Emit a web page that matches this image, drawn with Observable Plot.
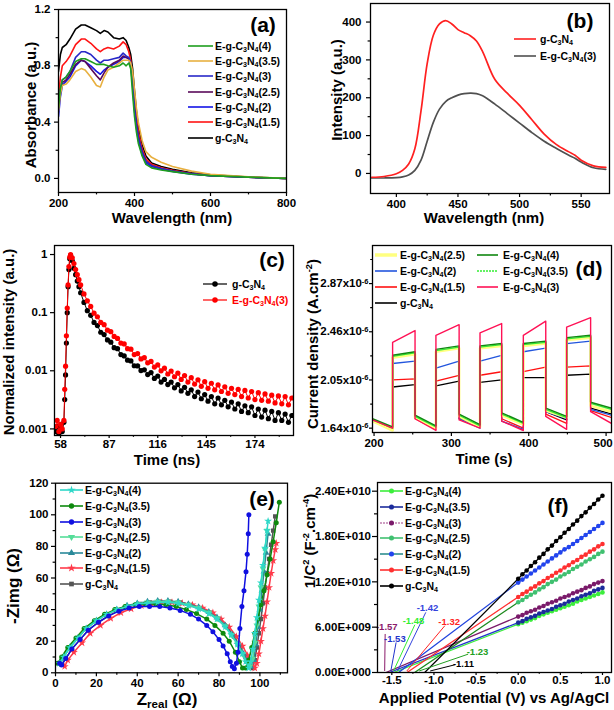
<!DOCTYPE html>
<html><head><meta charset="utf-8">
<script src="https://cdn.jsdelivr.net/npm/d3@7"></script>
<script src="https://cdn.jsdelivr.net/npm/@observablehq/plot@0.6"></script>
<style>
html,body{margin:0;padding:0;background:#fff;}
#root{position:relative;width:614px;height:710px;overflow:hidden;background:#fff;font-family:"Liberation Sans",Arial,Helvetica,sans-serif;font-weight:bold;color:#000;}
.t{position:absolute;white-space:nowrap;line-height:1;}
.xl{transform:translate(-50%,-50%);font-size:15px;}
.yl{transform:translate(-50%,-50%) rotate(-90deg);font-size:15px;}
.pl{transform:translate(-50%,-50%);font-size:21px;}
.lg{position:absolute;white-space:nowrap;font-size:10.5px;line-height:12px;height:12px;display:flex;align-items:center;}
.lg svg{display:block;flex:none;}
sub{font-size:0.68em;vertical-align:-0.28em;line-height:0;}
sup{font-size:0.62em;vertical-align:0.6em;line-height:0;}
</style></head><body><div id="root"></div>
<script>
// ---------------- (a) UV-vis absorbance ----------------
const uvWavelength = [200,205,210,220,230,245,260,270,285,300,310,320,330,345,360,370,378,385,390,395,400,405,410,420,430,445,470,500,550,600,700,800];
const uvG   = [0.76,0.88,0.93,0.95,0.99,1.06,1.09,1.09,1.07,1.05,1.03,1.05,1.04,1.00,0.99,1.00,0.98,0.93,0.88,0.78,0.62,0.48,0.37,0.24,0.16,0.11,0.085,0.065,0.04,0.025,0.01,0.0];
const uvE15 = [0.58,0.72,0.80,0.83,0.87,0.95,0.99,0.99,0.96,0.92,0.90,0.92,0.93,0.92,0.94,0.97,0.95,0.90,0.84,0.72,0.56,0.43,0.33,0.21,0.14,0.10,0.075,0.058,0.035,0.022,0.008,0.0];
const uvE2  = [0.44,0.58,0.66,0.69,0.72,0.80,0.84,0.83,0.80,0.76,0.74,0.77,0.79,0.81,0.83,0.86,0.86,0.85,0.80,0.66,0.48,0.36,0.27,0.17,0.11,0.085,0.065,0.05,0.03,0.02,0.008,0.0];
const uvE25 = [0.50,0.63,0.68,0.70,0.74,0.81,0.84,0.83,0.78,0.73,0.70,0.75,0.79,0.82,0.84,0.87,0.86,0.85,0.82,0.70,0.52,0.39,0.30,0.19,0.125,0.09,0.07,0.053,0.033,0.02,0.008,0.0];
const uvE3  = [0.50,0.62,0.70,0.72,0.76,0.86,0.90,0.90,0.88,0.84,0.82,0.84,0.84,0.85,0.86,0.89,0.87,0.86,0.82,0.68,0.50,0.38,0.29,0.19,0.12,0.09,0.07,0.052,0.033,0.02,0.008,0.0];
const uvE35 = [0.48,0.60,0.66,0.67,0.70,0.76,0.78,0.77,0.72,0.66,0.65,0.72,0.77,0.79,0.82,0.84,0.84,0.84,0.82,0.76,0.63,0.50,0.40,0.27,0.19,0.15,0.115,0.085,0.052,0.03,0.012,0.0];
const uvE4  = [0.50,0.64,0.70,0.72,0.76,0.83,0.85,0.85,0.83,0.81,0.81,0.81,0.80,0.79,0.80,0.82,0.80,0.82,0.78,0.60,0.44,0.33,0.25,0.16,0.10,0.075,0.06,0.048,0.03,0.02,0.009,0.0];

// ---------------- (b) PL spectra ----------------
const plWavelength = [380,390,400,405,410,415,420,425,430,435,440,445,450,455,460,465,470,480,490,500,510,520,530,540,545,550,560,570];
const plG  = [-10,-8,-1,8,25,65,165,290,365,395,404,395,380,372,364,350,322,248,212,180,142,104,76,57,48,35,20,16];
const plE3 = [-12,-12,-11,-9,-4,8,35,85,135,170,190,200,207,211,212,211,205,183,158,133,108,85,66,48,40,30,15,11];

// ---------------- (c) TRPL decay ----------------
const decayTime = [55,56,57,58,59,60,60.5,61,61.5,62,62.5,63,63.5,64,65,66,67,68,69,70,
  72,74,76,78,80,82,84,86,88,90,92,94,96,98,100,102,104,106,108,110,112,114,116,118,120,122,124,126,128,130,
  132,134,136,138,140,142,144,146,148,150,152,154,156,158,160,162,164,166,168,170,172,174,176,178,180,182,184,186,188,190,192,194,196];
const decayG = [0.0009,0.0011,0.0008,0.0010,0.0009,0.0013,0.0032,0.0085,0.03,0.10,0.28,0.55,0.85,0.97,
  0.78,0.58,0.45,0.35,0.28,0.22,
  0.15,0.108,0.09,0.068,0.06,0.046,0.042,0.034,0.031,0.025,
  0.024,0.019,0.018,0.0152,0.0148,0.0122,0.0121,0.0101,0.0104,0.0086,
  0.0093,0.0074,0.0081,0.0064,0.0071,0.0058,0.0064,0.0051,0.0058,0.0045,
  0.0052,0.0041,0.0047,0.0036,0.0043,0.0033,0.0039,0.0030,0.0036,0.0027,
  0.0034,0.0026,0.0031,0.0024,0.0029,0.0022,0.0027,0.0020,0.0025,0.0019,
  0.0024,0.0017,0.0022,0.0016,0.0021,0.0015,0.0020,0.0014,0.0019,0.0014,
  0.0018,0.0013,0.0017];
const decayE3 = [0.0011,0.0014,0.0009,0.0012,0.0010,0.0014,0.0048,0.012,0.04,0.12,0.30,0.62,0.90,1.0,
  0.88,0.70,0.55,0.45,0.37,0.30,
  0.21,0.16,0.128,0.098,0.085,0.068,0.062,0.05,0.047,0.039,
  0.036,0.030,0.029,0.024,0.0235,0.019,0.0198,0.016,0.0168,0.0137,
  0.0145,0.0116,0.0126,0.010,0.0111,0.0088,0.0099,0.0079,0.0091,0.0071,
  0.0083,0.0064,0.0076,0.0059,0.0070,0.0054,0.0065,0.0050,0.0061,0.0047,
  0.0057,0.0044,0.0053,0.0041,0.0050,0.0039,0.0048,0.0036,0.0046,0.0034,
  0.0044,0.0032,0.0042,0.0031,0.0040,0.0030,0.0038,0.0028,0.0037,0.0027,
  0.0036,0.0026,0.0034];

// ---------------- (d) transient photocurrent (x1e-6 A cm^-2) ----------------
const ivRange = [198, 507];
const ivOn  = [224, 280, 337, 393, 449];
const ivOff = [253, 310, 365, 422, 480];
const ivG_on   = [[1.99,2.01],[2.00,2.04],[2.03,2.05],[2.07,2.07],[2.09,2.10]];
const ivG_off  = [[1.71,1.64],[1.73,1.65],[1.73,1.66],[1.75,1.68],[1.78,1.71],[1.81,1.76]];
const ivE15_on  = [[2.05,2.06],[2.04,2.09],[2.09,2.12],[2.12,2.16],[2.16,2.17]];
const ivE15_off = [[1.70,1.63],[1.72,1.63],[1.72,1.65],[1.72,1.64],[1.76,1.68],[1.79,1.73]];
const ivE2_on  = [[2.19,2.21],[2.15,2.21],[2.21,2.26],[2.29,2.32],[2.36,2.38]];
const ivE2_off = [[1.71,1.64],[1.74,1.65],[1.72,1.64],[1.70,1.63],[1.78,1.72],[1.80,1.75]];
const ivE25_on  = [[2.24,2.27],[2.29,2.32],[2.32,2.34],[2.34,2.36],[2.39,2.41]];
const ivE25_off = [[1.70,1.62],[1.73,1.64],[1.74,1.65],[1.75,1.67],[1.79,1.73],[1.83,1.78]];
const ivE35_on  = [[2.25,2.28],[2.30,2.33],[2.33,2.35],[2.35,2.37],[2.40,2.42]];
const ivE35_off = [[1.71,1.64],[1.74,1.65],[1.75,1.66],[1.76,1.68],[1.80,1.73],[1.85,1.80]];
const ivE4_on  = [[2.26,2.29],[2.31,2.34],[2.34,2.36],[2.36,2.38],[2.41,2.43]];
const ivE4_off = [[1.72,1.65],[1.75,1.66],[1.76,1.67],[1.77,1.69],[1.81,1.74],[1.86,1.81]];
const ivE3_on  = [[2.37,2.47],[2.43,2.52],[2.45,2.53],[2.43,2.55],[2.50,2.58]];
const ivE3_off = [[1.71,1.64],[1.72,1.62],[1.71,1.64],[1.70,1.62],[1.74,1.63],[1.78,1.68]];

// ---------------- (e) EIS Nyquist ----------------
const eisG_x = [3,5,8,12,16,21,26,31,36,41,46,51,56,61,66,71,76,80,84,87.5,90.5,93,95,96.5,97.5,98.5,99.5,100.5,101.5,102.5,103.5,104.5,105.5,106.5,107.5];
const eisG_y = [5,9,15,21,27,32,36,39.5,42,43.5,44.5,45,45,44.5,43,41,38,34,29,23,16,10,5,3,8,16,25,34,44,54,63,72,81,90,99];
const eisE15_x = [4.5,6,9,13,17,22,27,32,37,42,47,52,57,62,67,72,77,81,85,88.5,91.5,94,96,97.5,98.5,99.5,100.5,101.5,102.5,103.5,104.5,105.5,106.5,107.5,108];
const eisE15_y = [4,8,13,19,25,30,34.5,38,40.5,42.5,43.5,44.5,44.5,44,43,41,38,34,29,23,17,11,6,3,6,12,20,28,36,45,54,63,71,78,82];
const eisE2_x = [2.5,4,7,11,15,20,25,30,35,40,45,50,55,60,65,70,75,79,83,86.5,89.5,92,94,95.5,97,98,99,100,101,102,103,104];
const eisE2_y = [6,10,16,22,28,33,37,40,42.5,44,45,45.5,45.5,45,43.5,41.5,38.5,35,30,24,18,12,7,4,8,18,29,40,52,64,76,88];
const eisE25_x = [2,4,7,11,15,20,25,30,35,40,45,50,55,60,65,70,75,79,83,86,89,91.5,93.5,95,96.5,97.5,98.5,99.5,100.5,101.5,102.5,103.5];
const eisE25_y = [6,10,16,22,28,33,37,40,42,43.5,44.5,45,45,44.5,43,41,38,34.5,29.5,24,18,12,7,4,9,19,30,42,54,66,78,90];
const eisE3_x = [2,3,5,8,12,16,21,26,31,36,41,46,51,56,61,66,70,74,77,80,82,84,85.5,86.5,87.5,88.5,89.3,90.2,91.2,92.2,93.2,93.8,94.3,94.6];
const eisE3_y = [6,5,9,15,21,27,32,36,39,41,42,42,42,41,39.5,37,34,30,26,21,17,12,7,4,2.5,6,13,28,42,52,64,75,88,100];
const eisE35_x = [1,3,6,10,14,19,24,29,34,39,44,49,54,59,64,69,74,78,82,85,88,90,91.5,93,94.5,96,97.5,99,100.5,102,103.5,105,106.5,108,109.5];
const eisE35_y = [6,10,16,22,28,33,37,40,42,43,43.5,43.5,43,42,40,37.5,34,30,25,20,13,7,3,3,8,16,25,34,43,52,62,72,83,95,108];
const eisE4_x = [2,4,7,11,15,20,25,30,35,40,45,50,55,60,65,70,75,79,83,86,89,91.5,93,94.5,95.5,96.5,97.5,98.5,99.5,100.5,101.5,102.5,103.5,104];
const eisE4_y = [6,10,16,22,28,33,37,40,42,43.5,44,44.5,44.5,44,42.5,40.5,37.5,34,29,24,18,12,7,3,7,15,25,35,46,57,68,79,90,96];

// ---------------- (f) Mott-Schottky (x1e10 F^-2 cm^4) ----------------
const msV = [0,0.05,0.1,0.15,0.2,0.25,0.3,0.35,0.4,0.45,0.5,0.55,0.6,0.65,0.7,0.75,0.8,0.85,0.9,0.95,1.0];
const msG   = [1.24,1.30,1.35,1.41,1.46,1.52,1.57,1.63,1.68,1.74,1.79,1.85,1.90,1.96,2.01,2.07,2.12,2.18,2.23,2.29,2.34];
const msE2  = [1.19,1.23,1.27,1.31,1.35,1.39,1.43,1.47,1.51,1.55,1.59,1.63,1.66,1.70,1.74,1.78,1.82,1.86,1.90,1.94,1.98];
const msE15 = [1.00,1.04,1.07,1.11,1.14,1.18,1.21,1.25,1.28,1.32,1.35,1.39,1.42,1.46,1.49,1.53,1.56,1.60,1.63,1.67,1.70];
const msE25 = [0.93,0.96,1.00,1.03,1.06,1.10,1.13,1.17,1.20,1.23,1.27,1.30,1.33,1.37,1.40,1.43,1.47,1.50,1.53,1.57,1.60];
const msE3  = [0.74,0.76,0.79,0.81,0.83,0.86,0.88,0.91,0.93,0.95,0.98,1.00,1.02,1.05,1.07,1.09,1.12,1.14,1.17,1.19,1.21];
const msE35 = [0.66,0.68,0.71,0.73,0.75,0.78,0.80,0.82,0.84,0.87,0.89,0.91,0.94,0.96,0.98,1.01,1.03,1.05,1.08,1.10,1.12];
const msE4  = [0.64,0.66,0.68,0.70,0.72,0.75,0.77,0.79,0.81,0.83,0.85,0.87,0.89,0.91,0.94,0.96,0.98,1.00,1.02,1.04,1.06];
const msLabelText = ["-1.57","-1.53","-1.48","-1.42","-1.32","-1.23","-1.11"];
const msLabelX = [-1.56,-1.464,-1.243,-1.077,-0.82,-0.483,-0.65];
const msLabelY = [0.597,0.442,0.685,0.853,0.672,0.274,0.119];
const msLeaderX = [-1.579,-1.449,-1.227,-1.097,-0.871,-0.594,-0.752];
const msLeaderY = [0.51,0.398,0.632,0.796,0.619,0.243,0.102];
const msLeaderEndX = [-1.585,-1.512,-1.48,-1.433,-1.322,-1.176,-1.045];
const msLabelColor = ["#8B1A6B","#2233CC","#33EE33","#3344DD","#FF2222","#22A022","#000000"];

// ================= rendering =================
const FONT = '"Liberation Sans", Arial, Helvetica, sans-serif';
const root = document.getElementById("root");
const SUB = s => s.replace(/C3N4/g, "C<sub>3</sub>N<sub>4</sub>");
const zip = (xs, ys, kx="x", ky="y") => xs.map((v,i)=>({[kx]: v, [ky]: ys[i]}));

const triDown = {draw(context, size) {
  const y = -Math.sqrt(size / (Math.sqrt(3) * 3));
  context.moveTo(0, -y * 2);
  context.lineTo(-Math.sqrt(3) * y, y);
  context.lineTo(Math.sqrt(3) * y, y);
  context.closePath();
}};

function panel(o) {
  const svg = Plot.plot({
    width: o.width, height: o.height,
    marginLeft: o.ml, marginRight: o.mr, marginTop: o.mt, marginBottom: o.mb,
    x: Object.assign({label: null}, o.x),
    y: Object.assign({label: null}, o.y),
    style: {fontFamily: FONT, fontSize: (o.fs || 11.5) + "px", fontWeight: "bold", background: "transparent", color: "#000", overflow: "visible"},
    marks: o.marks
  });
  svg.style.position = "absolute";
  svg.style.left = o.left + "px";
  svg.style.top = o.top + "px";
  root.appendChild(svg);
  return svg;
}

function axes(xt, xm, yt, ym, fx, fy, o = {}) {
  const ts = o.ts ?? 4, tp = o.tp ?? 3, tsy = o.tsy ?? ts, tpy = o.tpy ?? tp;
  return [
    Plot.axisX(xt, {tickSize: ts, tickPadding: tp, tickFormat: fx, strokeWidth: 1.2}),
    Plot.axisX(xm, {tickSize: ts * 0.6, tickFormat: () => "", strokeWidth: 1.2}),
    Plot.axisY(yt, {tickSize: tsy, tickPadding: tpy, tickFormat: fy, strokeWidth: 1.2}),
    Plot.axisY(ym, {tickSize: tsy * 0.6, tickFormat: () => "", strokeWidth: 1.2}),
    Plot.frame({stroke: "#000", strokeWidth: 1.3})
  ];
}

function txt(cls, x, y, html, extra = {}) {
  const d = document.createElement("div");
  d.className = "t " + cls;
  d.style.left = x + "px"; d.style.top = y + "px";
  d.innerHTML = html;
  Object.assign(d.style, extra);
  root.appendChild(d);
}

const symTypes = {circle: d3.symbolCircle, square: d3.symbolSquare, triangle: d3.symbolTriangle, star: d3.symbolStar, triDown: d3.symbolTriangle};
function legend(x, y, dy, w, gap, items, fs) {
  items.forEach((it, i) => {
    const d = document.createElement("div");
    d.className = "lg";
    d.style.left = x + "px";
    d.style.top = (y + i * dy - 6) + "px";
    if (fs) d.style.fontSize = fs + "px";
    let s = `<svg width="${w}" height="12" style="margin-right:${gap}px;overflow:visible"><line x1="0" y1="6" x2="${w}" y2="6" stroke="${it.color}" stroke-width="${it.sw ?? 1.6}" ${it.dash ? `stroke-dasharray="${it.dash}"` : ""}/>`;
    if (it.sym) {
      const p = d3.symbol(symTypes[it.sym], it.ss ?? 22)();
      s += `<path d="${p}" transform="translate(${w/2},6)${it.sym === "triDown" ? " rotate(180)" : ""}" fill="${it.mc || it.color}"/>`;
    }
    s += `</svg>`;
    d.innerHTML = s + `<span style="color:${it.tc || "#000"}">${SUB(it.label)}</span>`;
    root.appendChild(d);
  });
}

// ---- (a)
{
  const series = [
    [uvG, "#000000"], [uvE15, "#FF1414"], [uvE2, "#1414E6"], [uvE25, "#5A0A5A"],
    [uvE3, "#2828C8"], [uvE35, "#E8B040"], [uvE4, "#1E9E1E"]
  ];
  panel({
    left: 0, top: 0, width: 307, height: 235, ml: 58, mr: 21, mt: 9, mb: 43,
    x: {domain: [200, 800]}, y: {domain: [-0.1, 1.2]},
    marks: [
      ...series.map(([ys, c]) => Plot.line(zip(uvWavelength, ys), {x: "x", y: "y", stroke: c, strokeWidth: 1.6, clip: true})),
      ...axes([200,400,600,800], [300,500,700], [0,0.4,0.8,1.2], [0.2,0.6,1.0], d => d, d => d.toFixed(1), {ts: 4, tp: 2, tpy: 4})
    ]
  });
  txt("xl", 172, 217, "Wavelength (nm)");
  txt("yl", 30, 105, "Absorbance (a.u.)");
  txt("pl", 263, 24, "(a)");
  legend(188, 45.7, 15.3, 25, 2, [
    {label: "E-g-C3N4(4)", color: "#1E9E1E"},
    {label: "E-g-C3N4(3.5)", color: "#E8B040"},
    {label: "E-g-C3N4(3)", color: "#2828C8"},
    {label: "E-g-C3N4(2.5)", color: "#5A0A5A"},
    {label: "E-g-C3N4(2)", color: "#1414E6"},
    {label: "E-g-C3N4(1.5)", color: "#FF1414"},
    {label: "g-C3N4", color: "#000000"}
  ]);
}

// ---- (b)
{
  panel({
    left: 307, top: 0, width: 307, height: 235, ml: 63, mr: 5, mt: 3, mb: 42,
    x: {domain: [379, 573]}, y: {domain: [-53, 449]},
    marks: [
      Plot.line(zip(plWavelength, plE3), {x: "x", y: "y", stroke: "#505050", strokeWidth: 1.7, curve: "catmull-rom", clip: true}),
      Plot.line(zip(plWavelength, plG), {x: "x", y: "y", stroke: "#FF2020", strokeWidth: 1.7, curve: "catmull-rom", clip: true}),
      ...axes([400,450,500,550], [425,475,525], [0,100,200,300,400], [50,150,250,350], d => d, d => d, {ts: 4, tp: 2, tpy: 5})
    ]
  });
  txt("xl", 484, 217, "Wavelength (nm)");
  txt("yl", 336, 90, "Intensity (a.u.)");
  txt("pl", 580, 20, "(b)");
  legend(514, 39, 17, 22, 4, [
    {label: "g-C3N4", color: "#FF2020"},
    {label: "E-g-C3N4(3)", color: "#505050"}
  ]);
}

// ---- (c)
{
  const rowsG = zip(decayTime, decayG), rowsE = zip(decayTime, decayE3);
  panel({
    left: 0, top: 235, width: 307, height: 240, ml: 54, mr: 14, mt: 10, mb: 40,
    x: {domain: [54.4, 197]}, y: {type: "log", domain: [0.00077, 1.43]},
    marks: [
      Plot.line(rowsG, {x: "x", y: "y", stroke: "#000", strokeWidth: 1, clip: true}),
      Plot.dot(rowsG, {x: "x", y: "y", r: 2.6, fill: "#000", clip: true}),
      Plot.line(rowsE, {x: "x", y: "y", stroke: "#FF0000", strokeWidth: 1, clip: true}),
      Plot.dot(rowsE, {x: "x", y: "y", r: 2.6, fill: "#FF0000", clip: true}),
      ...axes([58,87,116,145,174], [72.5,101.5,130.5,159.5,188.5], [1,0.1,0.01,0.001], [], d => d, d => String(d), {ts: 3, tp: 1, tsy: 4, tpy: 3})
    ]
  });
  txt("xl", 167, 459, "Time (ns)");
  txt("yl", 8, 342, "Normalized intensity (a.u.)");
  txt("pl", 272, 259, "(c)");
  legend(203, 284, 16, 24, 5, [
    {label: "g-C3N4", color: "#000", sym: "circle", ss: 24, sw: 1.2},
    {label: "E-g-C3N4(3)", color: "#FF0000", sym: "circle", ss: 24, sw: 1.2, tc: "#FF0000"}
  ]);
}

// ---- (d)
{
  function ivPath(on, off) {
    const pts = [{x: ivRange[0], y: off[0][0]}];
    for (let i = 0; i < 5; i++) {
      pts.push({x: ivOn[i], y: off[i][1]});
      pts.push({x: ivOn[i], y: on[i][0]});
      pts.push({x: ivOff[i], y: on[i][1]});
      pts.push({x: ivOff[i], y: off[i + 1][0]});
    }
    pts.push({x: ivRange[1], y: off[5][1]});
    return pts;
  }
  const series = [
    [ivG_on, ivG_off, "#000000", 1.3],
    [ivE15_on, ivE15_off, "#FF1111", 1.3],
    [ivE2_on, ivE2_off, "#2255DD", 1.3],
    [ivE25_on, ivE25_off, "#FFFF80", 2.6],
    [ivE35_on, ivE35_off, "#33EE33", 1.3],
    [ivE4_on, ivE4_off, "#118811", 1.4],
    [ivE3_on, ivE3_off, "#FF1155", 1.4]
  ];
  const svg = panel({
    left: 307, top: 235, width: 307, height: 240, ml: 65, mr: 3, mt: 10, mb: 43,
    x: {domain: [198, 507]}, y: {domain: [1.603, 3.194]},
    marks: [
      ...series.map(([on, off, c, w]) => Plot.line(ivPath(on, off), {x: "x", y: "y", stroke: c, strokeWidth: w, clip: true})),
      ...axes([200,300,400,500], [250,350,450], [1.64,2.05,2.46,2.87], [1.845,2.255,2.665,3.075], d => d, d => d.toFixed(2) + "x10^-6", {ts: 4, tp: 2, tsy: 3, tpy: 1})
    ]
  });
  svg.querySelectorAll("text").forEach(el => {
    const s = el.textContent;
    if (s.includes("^")) {
      const [base, exp] = s.split("^");
      el.textContent = base;
      const ts = document.createElementNS("http://www.w3.org/2000/svg", "tspan");
      ts.setAttribute("dy", "-0.5em");
      ts.setAttribute("font-size", "65%");
      ts.textContent = exp;
      el.appendChild(ts);
    } else if (s === "500") {
      el.setAttribute("dx", "-3");
    }
  });
  txt("xl", 484, 458, "Time (s)");
  txt("yl", 312, 344, "Current density (A.cm<sup>-2</sup>)");
  txt("pl", 589, 268, "(d)");
  legend(375, 255, 15.9, 22, 3, [
    {label: "E-g-C3N4(2.5)", color: "#FFFF80", sw: 3.5},
    {label: "E-g-C3N4(2)", color: "#2255DD"},
    {label: "E-g-C3N4(1.5)", color: "#FF1111"},
    {label: "g-C3N4", color: "#000000"}
  ]);
  legend(477, 255, 15.9, 21, 5, [
    {label: "E-g-C3N4(4)", color: "#118811"},
    {label: "E-g-C3N4(3.5)", color: "#33EE33", dash: "2,1"},
    {label: "E-g-C3N4(3)", color: "#FF1155"}
  ]);
}

// ---- (e)
{
  const series = [
    [eisG_x, eisG_y, "#555555", "square"],
    [eisE15_x, eisE15_y, "#FF3A4A", "star"],
    [eisE2_x, eisE2_y, "#2A8A9A", "triangle"],
    [eisE25_x, eisE25_y, "#55DD99", triDown],
    [eisE35_x, eisE35_y, "#0E8A0E", "circle"],
    [eisE4_x, eisE4_y, "#2ED8C8", "star"],
    [eisE3_x, eisE3_y, "#1010E0", "circle"]
  ];
  const marks = [];
  series.forEach(([xs, ys, c, sym]) => {
    const rows = zip(xs, ys);
    marks.push(Plot.line(rows, {x: "x", y: "y", stroke: c, strokeWidth: 1.5, clip: true}));
    marks.push(Plot.dot(rows, {x: "x", y: "y", r: 2.5, symbol: sym, fill: c, stroke: "none", clip: true}));
  });
  panel({
    left: 0, top: 470, width: 307, height: 240, ml: 55, mr: 20, mt: 12.7, mb: 37.7,
    x: {domain: [0, 113.5]}, y: {domain: [0, 120]},
    marks: [
      ...marks,
      ...axes([0,20,40,60,80,100], [10,30,50,70,90,110], [0,20,40,60,80,100,120], [10,30,50,70,90,110], d => d, d => d, {ts: 4, tp: 2, tpy: 3})
    ]
  });
  txt("xl", 167, 699, "Z<sub>real</sub> (Ω)", {fontSize: "17px"});
  txt("yl", 13, 586, "-Zimg (Ω)", {fontSize: "17px"});
  txt("pl", 262, 498, "(e)");
  legend(60, 490.3, 15.6, 23, 2, [
    {label: "E-g-C3N4(4)", color: "#2ED8C8", sym: "star"},
    {label: "E-g-C3N4(3.5)", color: "#0E8A0E", sym: "circle"},
    {label: "E-g-C3N4(3)", color: "#1010E0", sym: "circle"},
    {label: "E-g-C3N4(2.5)", color: "#55DD99", sym: "triDown"},
    {label: "E-g-C3N4(2)", color: "#2A8A9A", sym: "triangle"},
    {label: "E-g-C3N4(1.5)", color: "#FF3A4A", sym: "star"},
    {label: "g-C3N4", color: "#555555", sym: "square"}
  ]);
}

// ---- (f)
{
  // [data, line color, dot color, intercept, tangent color]
  const series = [
    [msE4, "#3CEE3C", "#3CEE3C", -1.48, "#3CEE3C"],
    [msE35, "#1C2C9C", "#1C2C9C", -1.53, "#2233CC"],
    [msE3, "#7A1A6A", "#7A1A6A", -1.57, "#7A1A6A"],
    [msE25, "#40C070", "#40C070", -1.23, "#1E8A1E"],
    [msE2, "#2244DD", "#2244EE", -1.42, "#2244DD"],
    [msE15, "#FF3030", "#FF3030", -1.32, "#FF3030"],
    [msG, "#000000", "#000000", -1.11, "#000000"]
  ];
  const marks = [];
  series.forEach(([ys, lc, dc, x0, tc]) => {
    marks.push(Plot.line([{x: x0, y: 0}, {x: 0, y: ys[0]}], {x: "x", y: "y", stroke: tc, strokeWidth: 1.3, clip: true}));
  });
  series.forEach(([ys, lc, dc]) => {
    const rows = zip(msV, ys);
    marks.push(Plot.line(rows, {x: "x", y: "y", stroke: lc, strokeWidth: 1.3, clip: true}));
    marks.push(Plot.dot(rows, {x: "x", y: "y", r: 2.3, fill: dc, clip: true}));
  });
  const labRows = msLabelText.map((t, i) => ({t, x: msLabelX[i], y: msLabelY[i], x1: msLeaderX[i], y1: msLeaderY[i], x2: msLeaderEndX[i], y2: 0.02, c: msLabelColor[i]}));
  marks.push(Plot.link(labRows, {x1: "x1", y1: "y1", x2: "x2", y2: "y2", stroke: d => d.c, strokeWidth: 1}));
  marks.push(Plot.text(labRows, {x: "x", y: "y", text: "t", fill: d => d.c, fontSize: 9.5, fontWeight: "bold"}));
  panel({
    left: 307, top: 470, width: 307, height: 240, ml: 70, mr: 3, mt: 12, mb: 38,
    x: {domain: [-1.67, 1.107]}, y: {domain: [0, 2.515]},
    marks: [
      ...marks,
      ...axes([-1.5,-1.0,-0.5,0,0.5,1.0], [-1.25,-0.75,-0.25,0.25,0.75], [0,0.6,1.2,1.8,2.4], [0.3,0.9,1.5,2.1],
        d => d.toFixed(1),
        d => d === 0 ? "0.00E+000" : d < 1 ? (d * 10).toFixed(2) + "E+009" : d.toFixed(2) + "E+010",
        {ts: 3, tp: 0.5, tsy: 5, tpy: 1.5})
    ]
  });
  txt("xl", 494, 697, "Applied Potential (V) vs Ag/AgCl");
  txt("yl", 309, 541, "1/C<sup>2</sup> (F<sup>-2</sup>.cm<sup>-4</sup>)");
  txt("pl", 558, 505, "(f)");
  legend(380, 491.3, 15.7, 23, 2, [
    {label: "E-g-C3N4(4)", color: "#3CEE3C", sym: "circle", ss: 20},
    {label: "E-g-C3N4(3.5)", color: "#1C2C9C", sym: "circle", ss: 20},
    {label: "E-g-C3N4(3)", color: "#C080B0", mc: "#7A1A6A", sym: "circle", ss: 20, dash: "2,1"},
    {label: "E-g-C3N4(2.5)", color: "#40C070", sym: "circle", ss: 20},
    {label: "E-g-C3N4(2)", color: "#2E8E8E", mc: "#2244EE", sym: "circle", ss: 20},
    {label: "E-g-C3N4(1.5)", color: "#FF3030", sym: "circle", ss: 20},
    {label: "g-C3N4", color: "#000000", sym: "circle", ss: 20}
  ]);
}
</script></body></html>
